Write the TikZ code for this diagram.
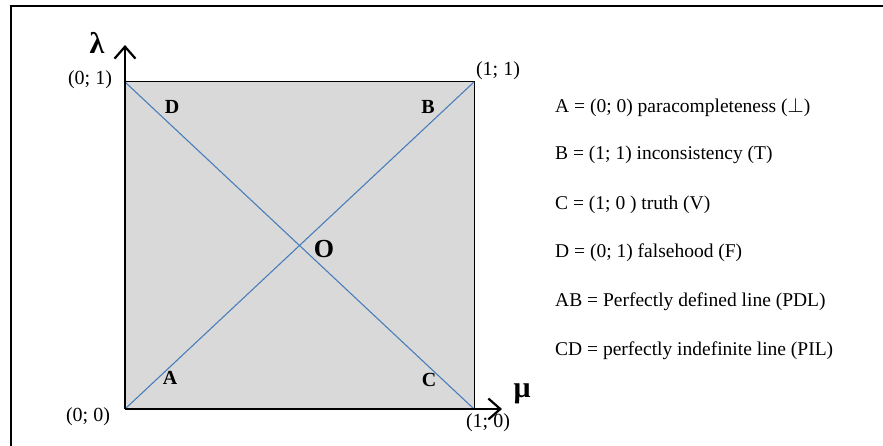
\documentclass[tikz,border=0pt]{standalone}
\usepackage{fontspec}
\setmainfont{Liberation Serif}
\usetikzlibrary{arrows.meta}
\definecolor{sqgray}{HTML}{D9D9D9}
\definecolor{diagblue}{HTML}{4A7EBB}
\begin{document}
\begin{tikzpicture}[x=1pt,y=-1pt,
  lbl/.style={font=\fontsize{20}{22}\selectfont, inner sep=0pt},
  corner/.style={font=\fontsize{20}{22}\bfseries\selectfont, inner sep=0pt},
  legend/.style={font=\fontsize{19.5}{22}\selectfont, inner sep=0pt, anchor=west},
  axis/.style={line width=2.2pt, -{Straight Barb[length=12pt,width=21pt,line width=2.2pt]}},
  greek/.style={font=\fontsize{30}{32}\selectfont, inner sep=0pt}]
\useasboundingbox (0,0) rectangle (883,446);
\draw[line width=2.5pt] (11,460) -- (11,6) -- (900,6);
% square
\coordinate (P00) at (125,409);
\coordinate (P10) at (474,409);
\coordinate (P11) at (474,82);
\coordinate (P01) at (125,82);
\fill[sqgray] (P00) rectangle (P11);
\draw[line width=1pt] (P01) -- (P11) -- (P10);
\draw[diagblue, line width=1.1pt] (P00) -- (P11);
\draw[diagblue, line width=1.1pt] (P01) -- (P10);
% axes
\coordinate (ytip) at (125,45);
\coordinate (xtip) at (502,409);
\draw[axis] (P00) -- (ytip);
\draw[axis] (P00) -- (xtip);
\node[greek] (lam) at (97,43) {\textbf{λ}};
\node[greek] (mu) at (522,394) {\textbf{μ}};
% corner coordinates
\node[lbl] (c01) at (90,80) {(0; 1)};
\node[lbl] (c11) at (498,71) {(1; 1)};
\node[lbl] (c00) at (88,417) {(0; 0)};
\node[lbl] (c10) at (488,423) {(1; 0)};
% letters
\node[corner] (D) at (172,107) {D};
\node[corner] (B) at (428,107) {B};
\node[corner] (A) at (170,378) {A};
\node[corner] (C) at (429,380) {C};
\node[font=\fontsize{26}{28}\bfseries\selectfont, inner sep=0pt] (O) at (324,249) {O};
% legend
\node[legend] (l1) at (555,107) {A = (0; 0) paracompleteness ($\perp$)};
\node[legend] (l2) at (555,155) {B = (1; 1) inconsistency (T)};
\node[legend] (l3) at (555,205) {C = (1; 0 ) truth (V)};
\node[legend] (l4) at (555,253) {D = (0; 1) falsehood (F)};
\node[legend] (l5) at (555,302) {AB = Perfectly defined line (PDL)};
\node[legend] (l6) at (555,351) {CD = perfectly indefinite line (PIL)};
\end{tikzpicture}
\end{document}
